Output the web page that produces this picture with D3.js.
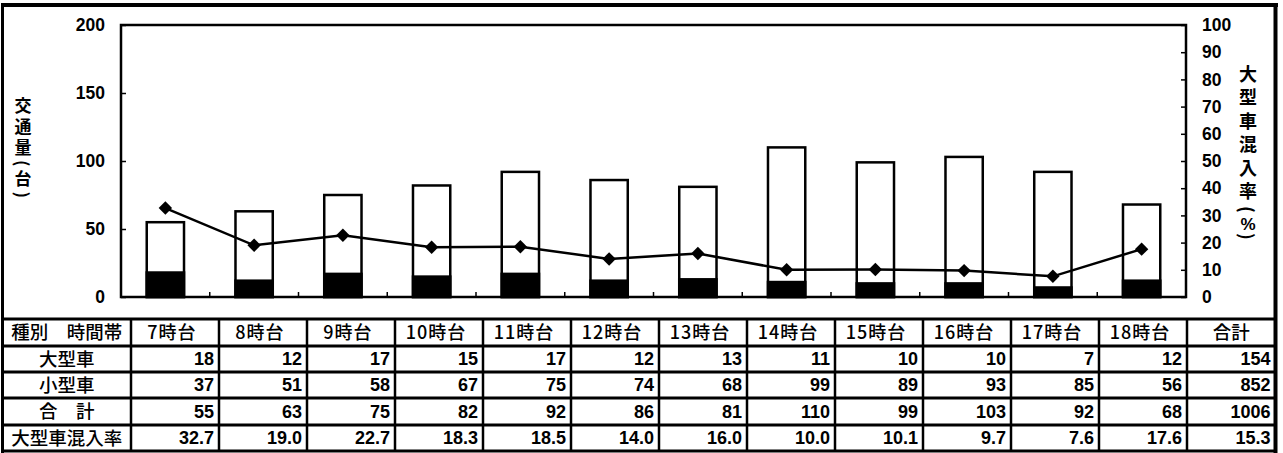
<!DOCTYPE html>
<html><head><meta charset="utf-8">
<script src="https://cdn.jsdelivr.net/npm/d3@7"></script>
<style>
html,body{margin:0;padding:0;background:#fff;}
svg{display:block;}
.num{font-family:"Liberation Sans",Arial,sans-serif;font-weight:bold;}
.jp{font-family:"Noto Sans CJK JP",sans-serif;font-weight:bold;}
.jpn{font-family:"Noto Sans CJK JP",sans-serif;font-weight:500;}
</style></head>
<body>
<svg id="c" width="1283" height="453"></svg>
<script>
const hours = ["7時台","8時台","9時台","10時台","11時台","12時台","13時台","14時台","15時台","16時台","17時台","18時台"];
const largeVeh = [18,12,17,15,17,12,13,11,10,10,7,12];
const smallVeh = [37,51,58,67,75,74,68,99,89,93,85,56];
const totalVeh = [55,63,75,82,92,86,81,110,99,103,92,68];
const ratio = [32.7,19.0,22.7,18.3,18.5,14.0,16.0,10.0,10.1,9.7,7.6,17.6];
const sumLabels = ["154","852","1006","15.3"];
const rowLabels = ["大型車","小型車","合　計","大型車混入率"];
const headerLeft = "種別　時間帯";
const headerTotal = "合計";
const leftTicks = [0,50,100,150,200];
const rightTicks = [0,10,20,30,40,50,60,70,80,90,100];
const leftTitle = "交通量(台)";
const rightTitleA = "大型車混入率(";
const rightTitleB = "%";
const rightTitleC = ")";

const svg = d3.select("#c");
const L=121, R=1186, T=25, B=297;

const x = d3.scaleBand().domain(hours).range([L,R]).padding(0);
const yL = d3.scaleLinear().domain([0,200]).range([B,T]);
const yR = d3.scaleLinear().domain([0,100]).range([B,T]);

// outer frame
svg.append("line").attr("x1",1).attr("x2",1278).attr("y1",5).attr("y2",5).attr("stroke","#000").attr("stroke-width",4);
svg.append("line").attr("x1",2.5).attr("x2",2.5).attr("y1",3).attr("y2",453).attr("stroke","#000").attr("stroke-width",3);
svg.append("line").attr("x1",1275.5).attr("x2",1275.5).attr("y1",3).attr("y2",453).attr("stroke","#000").attr("stroke-width",4);

// bars
const bw = x.bandwidth()*0.42;
const g = svg.append("g");
hours.forEach((h,i)=>{
  const cx = x(h)+x.bandwidth()/2;
  g.append("rect").attr("x",cx-bw/2).attr("width",bw)
    .attr("y",yL(totalVeh[i])).attr("height",yL(0)-yL(totalVeh[i]))
    .attr("fill","#fff").attr("stroke","#000").attr("stroke-width",2.5);
  g.append("rect").attr("x",cx-bw/2).attr("width",bw)
    .attr("y",yL(largeVeh[i])).attr("height",yL(0)-yL(largeVeh[i]))
    .attr("fill","#000").attr("stroke","#000").attr("stroke-width",2.5);
});

// line
const line = d3.line().x((d,i)=>x(hours[i])+x.bandwidth()/2).y(d=>yR(d));
svg.append("path").datum(ratio).attr("d",line).attr("fill","none").attr("stroke","#000").attr("stroke-width",2.5);
svg.selectAll(".mk").data(ratio).enter().append("path")
  .attr("d",d3.symbol(d3.symbolSquare,90))
  .attr("transform",(d,i)=>`translate(${x(hours[i])+x.bandwidth()/2},${yR(d)}) rotate(45)`)
  .attr("fill","#000");

// plot frame
svg.append("rect").attr("x",L).attr("y",T).attr("width",R-L).attr("height",B-T)
  .attr("fill","none").attr("stroke","#000").attr("stroke-width",2.5);

// axes
const axL = svg.append("g").attr("transform",`translate(${L},0)`)
  .call(d3.axisLeft(yL).tickValues(leftTicks).tickSize(-5).tickPadding(16));
const axR = svg.append("g").attr("transform",`translate(${R},0)`)
  .call(d3.axisRight(yR).tickValues(rightTicks).tickSize(-5).tickPadding(16));
[axL,axR].forEach(a=>{
  a.select(".domain").remove();
  a.selectAll("line").attr("stroke","#000").attr("stroke-width",1.5);
  a.selectAll("text").attr("class","num").attr("font-size",17.5).attr("fill","#000");
});
// bottom ticks between categories
const boundaries = hours.slice(1).map(h=>x(h));
svg.selectAll(".bt").data(boundaries).enter().append("line")
  .attr("x1",d=>d).attr("x2",d=>d).attr("y1",B).attr("y2",B-5)
  .attr("stroke","#000").attr("stroke-width",1.5);

// axis titles (vertical)
svg.append("text").attr("class","jp").attr("x",23).attr("y",97)
  .style("writing-mode","vertical-rl")
  .attr("font-size",17).attr("letter-spacing",4).text(leftTitle);
svg.append("text").attr("class","jp").attr("x",1248).attr("y",65)
  .style("writing-mode","vertical-rl")
  .attr("font-size",18).attr("letter-spacing",5.5).text(rightTitleA);
svg.append("text").attr("class","num").attr("x",1248).attr("y",230)
  .attr("text-anchor","middle").attr("font-size",17).text(rightTitleB);
svg.append("text").attr("class","jp").attr("x",1248).attr("y",233)
  .style("writing-mode","vertical-rl")
  .attr("font-size",18).text(rightTitleC);

// table
const rowsY = [319,346,372,398,425,451];
const colX = [2.5,131];
const xc = d3.scaleLinear().domain([0,hours.length]).range([131,1187]);
for(let i=1;i<=hours.length;i++) colX.push(xc(i));
colX.push(1275.5);
const tb = svg.append("g");
rowsY.forEach(y=>tb.append("line").attr("x1",2).attr("x2",1277).attr("y1",y).attr("y2",y).attr("stroke","#000").attr("stroke-width",3));
colX.forEach(cx=>tb.append("line").attr("x1",cx).attr("x2",cx).attr("y1",rowsY[0]).attr("y2",rowsY[5]).attr("stroke","#000").attr("stroke-width",2.5));

const rowMid = i=>(rowsY[i]+rowsY[i+1])/2;
// header
tb.append("text").attr("class","jpn").attr("x",(colX[0]+colX[1])/2).attr("y",rowMid(0)).attr("dy","0.36em")
  .attr("text-anchor","middle").attr("font-size",18.5).text(headerLeft);
hours.forEach((h,i)=>{
  tb.append("text").attr("class","jpn").attr("x",(xc(i)+xc(i+1))/2 - 3).attr("y",rowMid(0)).attr("dy","0.36em")
    .attr("text-anchor","middle").attr("font-size",18).attr("letter-spacing",1).text(h);
});
tb.append("text").attr("class","jpn").attr("x",(colX[13]+colX[14])/2).attr("y",rowMid(0)).attr("dy","0.36em")
  .attr("text-anchor","middle").attr("font-size",18.5).text(headerTotal);
// row labels
rowLabels.forEach((lab,r)=>{
  tb.append("text").attr("class","jpn").attr("x",(colX[0]+colX[1])/2).attr("y",rowMid(r+1)).attr("dy","0.36em")
    .attr("text-anchor","middle").attr("font-size",18.5).text(lab);
});
const rowsData = [largeVeh.map(String), smallVeh.map(String), totalVeh.map(String), ratio.map(v=>v.toFixed(1))];
rowsData.forEach((arr,r)=>{
  arr.forEach((v,i)=>{
    tb.append("text").attr("class","num").attr("x",xc(i+1)-5).attr("y",rowMid(r+1)).attr("dy","0.36em")
      .attr("text-anchor","end").attr("font-size",18).text(v);
  });
  tb.append("text").attr("class","num").attr("x",colX[14]-5).attr("y",rowMid(r+1)).attr("dy","0.36em")
    .attr("text-anchor","end").attr("font-size",18).text(sumLabels[r]);
});
</script>
</body></html>
